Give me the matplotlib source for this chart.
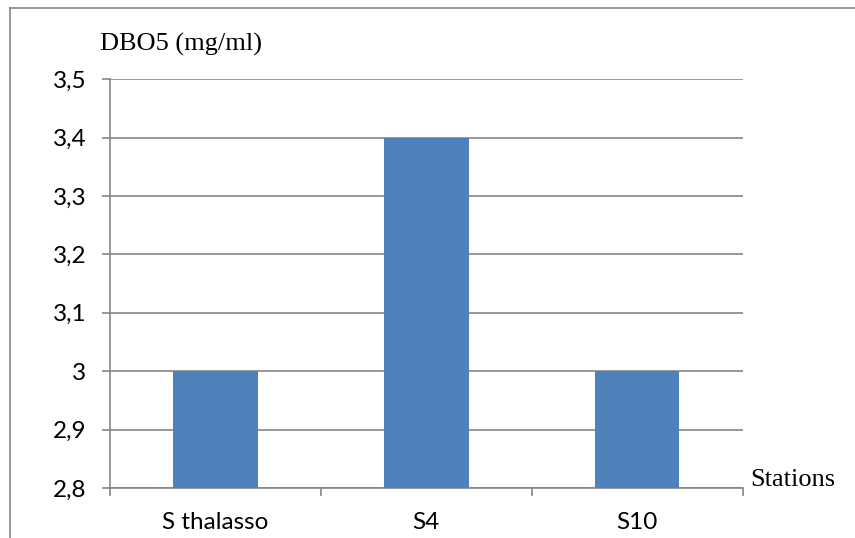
import matplotlib.pyplot as plt
from matplotlib.lines import Line2D
from matplotlib.ticker import FixedLocator, NullFormatter
import numpy as np


stations = ["S thalasso", "S4", "S10"]
dbo5 = [3.0, 3.4, 3.0]
y_ticks = [2.8, 2.9, 3.0, 3.1, 3.2, 3.3, 3.4, 3.5]
y_labels = ["2,8", "2,9", "3", "3,1", "3,2", "3,3", "3,4", "3,5"]

GRAY = "#868686"
BLUE = "#4F81BD"
W, H = 855, 538


def main():
    fig = plt.figure(figsize=(W / 100, H / 100), dpi=100)
    fig.patch.set_facecolor("white")

    # plot area placed in pixels
    left, right, top, bottom = 110, 742.7, 79.3, 488
    ax = fig.add_axes([left / W, (H - bottom) / H, (right - left) / W, (bottom - top) / H])

    x = np.arange(len(stations))
    ax.bar(x, dbo5, width=0.4, bottom=0, color=BLUE, zorder=3)

    ax.set_xlim(-0.5, len(stations) - 0.5)
    ax.set_ylim(y_ticks[0], y_ticks[-1])
    ax.set_yticks(y_ticks)
    ax.set_yticklabels(y_labels, fontfamily="Lato", fontsize=17.5)
    ax.set_xticks(x)
    ax.set_xticklabels(stations, fontfamily="Lato", fontsize=17.5)
    ax.xaxis.set_minor_locator(FixedLocator(np.arange(-0.5, len(stations), 1.0)))
    ax.xaxis.set_minor_formatter(NullFormatter())

    ax.tick_params(axis="x", which="major", length=0, pad=17)
    ax.tick_params(axis="x", which="minor", length=6, width=1.2, color=GRAY, direction="out")
    ax.tick_params(axis="y", length=6, width=1.2, color=GRAY, direction="out", pad=11)

    ax.grid(axis="y", color=GRAY, linewidth=1.2, zorder=1)
    for side in ["top", "right"]:
        ax.spines[side].set_visible(False)
    for side in ["left", "bottom"]:
        ax.spines[side].set_color(GRAY)
        ax.spines[side].set_linewidth(1.2)

    fig.text(100 / W, 1 - 44 / H, "DBO5 (mg/ml)", fontfamily="Liberation Serif",
             fontsize=19, ha="left", va="center")
    fig.text(750 / W, 1 - 480 / H, "Stations", fontfamily="Liberation Serif",
             fontsize=19, ha="left", va="center")

    # outer chart frame
    fig.add_artist(Line2D([10 / W, 10 / W], [0, 1 - 8 / H], color=GRAY, linewidth=1.2,
                          transform=fig.transFigure))
    fig.add_artist(Line2D([10 / W, 1], [1 - 8 / H, 1 - 8 / H], color=GRAY, linewidth=1.2,
                          transform=fig.transFigure))

    fig.savefig("out.png", dpi=100)
    plt.close(fig)


if __name__ == "__main__":
    main()
